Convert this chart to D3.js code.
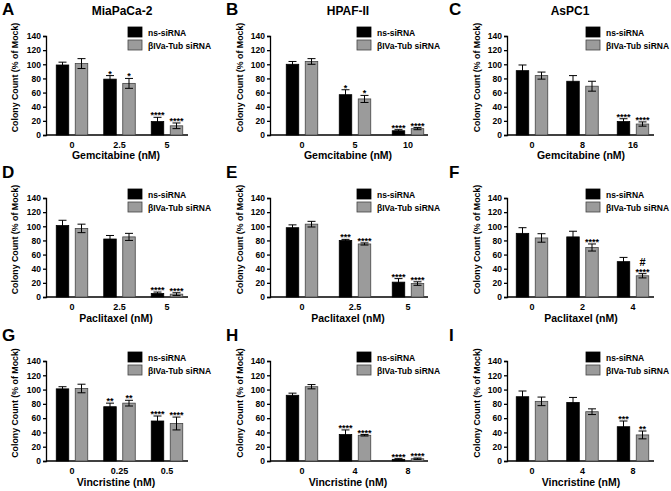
<!DOCTYPE html>
<html>
<head>
<meta charset="utf-8">
<script src="https://cdn.jsdelivr.net/npm/d3@7"></script>
<style>
  body { margin: 0; background: #fff; }
  text { font-family: Arial, "Liberation Sans", sans-serif; font-weight: bold; }
</style>
</head>
<body>
<div id="chart"></div>
<script>
// panel data, left-to-right then top-to-bottom
let letters = ["A", "B", "C", "D", "E", "F", "G", "H", "I"];
let cellLines = ["MiaPaCa-2", "HPAF-II", "AsPC1"];
let drugLabels = ["Gemcitabine (nM)", "Paclitaxel (nM)", "Vincristine (nM)"];
let seriesNames = ["ns-siRNA", "\u03b2IVa-Tub siRNA"];
let yTicks = [0, 20, 40, 60, 80, 100, 120, 140];

let doses = [
  ["0", "2.5", "5"], ["0", "5", "10"], ["0", "8", "16"],
  ["0", "2.5", "5"], ["0", "2.5", "5"], ["0", "2", "4"],
  ["0", "0.25", "0.5"], ["0", "4", "8"], ["0", "4", "8"]
];
let nsMean = [
  [99, 79, 19], [100, 57, 6], [91, 76, 19],
  [101, 82, 5], [98, 80, 21], [90, 85, 50],
  [101, 76, 56], [92, 37, 2.3], [90, 82, 48]
];
let nsErr = [
  [4, 5, 6], [4, 7, 1.5], [8, 8, 4],
  [7.5, 5, 2], [4, 1.5, 5], [8, 8, 6],
  [3, 5, 7], [3, 6.5, 1], [8, 7, 8]
];
let tubMean = [
  [101, 73, 13], [104, 51, 9], [84, 69, 15.5],
  [97, 85, 4], [103, 75, 19], [83.5, 70, 30],
  [101.5, 81, 52.5], [104, 36, 3.2], [83.5, 69, 36.5]
];
let tubErr = [
  [7, 7, 4], [4, 5, 1.5], [5, 7, 3],
  [6, 5, 2], [4, 1.5, 2.5], [6, 5, 3],
  [6, 4, 9], [3, 1, 1], [6, 4, 5.5]
];
let nsSig = [
  ["", "*", "****"], ["", "*", "****"], ["", "", "****"],
  ["", "", "****"], ["", "***", "****"], ["", "", ""],
  ["", "**", "****"], ["", "****", "****"], ["", "", "***"]
];
let tubSig = [
  ["", "*", "****"], ["", "*", "****"], ["", "", "****"],
  ["", "", "****"], ["", "****", "****"], ["", "****", "#|****"],
  ["", "**", "****"], ["", "****", "****"], ["", "", "**"]
];

// layout (pixels)
let width = 671, height = 491;
let cols = [
  { x: 0,   axisX: 46,  first: 72,  last: 167, end: 188, legendX: 128, labelX: 18,  titleX: 122, xTitleX: 116 },
  { x: 224, axisX: 270, first: 302, last: 408, end: 428, legendX: 357, labelX: 243, titleX: 348, xTitleX: 348 },
  { x: 447, axisX: 507, first: 532, last: 633, end: 654, legendX: 586, labelX: 480, titleX: 570, xTitleX: 581 }
];
let rows = [
  { y: 0,   top: 36,  bottom: 135, xTitleY: 159 },
  { y: 163, top: 198, bottom: 297, xTitleY: 322 },
  { y: 326, top: 361, bottom: 461, xTitleY: 486 }
];
let barW = 12.5, barOff = 9.5, capW = 8;
let black = "#000", gray = "#9b9b9b";

let svg = d3.select("#chart").append("svg")
  .attr("width", width).attr("height", height);

letters.forEach(function(letter, i) {
  let col = cols[i % 3], row = rows[Math.floor(i / 3)];
  let g = svg.append("g");

  let x = d3.scalePoint().domain(doses[i]).range([col.first, col.last]);
  let y = d3.scaleLinear().domain([0, 140]).range([row.bottom, row.top]);

  // panel letter
  g.append("text").attr("x", col.x + 2).attr("y", row.y + 15)
    .style("font-size", "17px").text(letter);

  // cell line title on top row
  if (i < 3) {
    g.append("text").attr("x", col.titleX).attr("y", 15)
      .attr("text-anchor", "middle").style("font-size", "12px").text(cellLines[i]);
  }

  // y axis
  let yAxis = d3.axisLeft(y).tickValues(yTicks).tickSize(3).tickPadding(2);
  let ya = g.append("g").attr("transform", "translate(" + col.axisX + ",0)").call(yAxis);
  ya.selectAll("text").style("font-size", "8.5px").style("font-family", "Arial, 'Liberation Sans', sans-serif").style("font-weight", "bold");
  ya.selectAll("line, path").attr("stroke-width", 1.3);

  // x axis
  let xa = g.append("g").attr("transform", "translate(0," + row.bottom + ")");
  xa.append("line").attr("x1", col.axisX).attr("x2", col.end)
    .attr("stroke", "#000").attr("stroke-width", 1.3);
  xa.selectAll(".xtick").data(doses[i]).enter().append("text")
    .attr("x", d => x(d)).attr("y", 12.5)
    .attr("text-anchor", "middle").style("font-size", "9px").text(d => d);

  // axis titles
  g.append("text").attr("x", col.xTitleX).attr("y", row.xTitleY)
    .attr("text-anchor", "middle").style("font-size", "10.5px")
    .text(drugLabels[Math.floor(i / 3)]);
  g.append("text")
    .attr("transform", "translate(" + col.labelX + "," + ((row.top + row.bottom) / 2 - 8) + ") rotate(-90)")
    .attr("text-anchor", "middle").style("font-size", "8.8px")
    .text("Colony Count (% of Mock)");

  // bars, error bars, significance
  let series = [
    { mean: nsMean[i], err: nsErr[i], sig: nsSig[i], off: -barOff, fill: black, stroke: black },
    { mean: tubMean[i], err: tubErr[i], sig: tubSig[i], off: barOff, fill: gray, stroke: "#444" }
  ];
  series.forEach(function(s) {
    let items = doses[i].map((d, k) => ({ dose: d, m: s.mean[k], e: s.err[k], sig: s.sig[k] }));
    let bg = g.append("g");
    bg.selectAll("rect").data(items).enter().append("rect")
      .attr("x", d => x(d.dose) + s.off - barW / 2)
      .attr("y", d => y(d.m))
      .attr("width", barW)
      .attr("height", d => y(0) - y(d.m))
      .attr("fill", s.fill).attr("stroke", s.stroke).attr("stroke-width", 0.8);
    let eb = bg.selectAll(".eb").data(items).enter().append("g")
      .attr("stroke", "#000").attr("stroke-width", 1);
    eb.append("line")
      .attr("x1", d => x(d.dose) + s.off).attr("x2", d => x(d.dose) + s.off)
      .attr("y1", d => y(d.m - d.e)).attr("y2", d => y(d.m + d.e));
    eb.append("line")
      .attr("x1", d => x(d.dose) + s.off - capW / 2).attr("x2", d => x(d.dose) + s.off + capW / 2)
      .attr("y1", d => y(d.m + d.e)).attr("y2", d => y(d.m + d.e));
    eb.append("line")
      .attr("x1", d => x(d.dose) + s.off - capW / 2).attr("x2", d => x(d.dose) + s.off + capW / 2)
      .attr("y1", d => y(d.m - d.e)).attr("y2", d => y(d.m - d.e));
    bg.selectAll(".sig").data(items.filter(d => d.sig)).enter().append("text")
      .attr("x", d => x(d.dose) + s.off)
      .attr("y", d => y(d.m + d.e) - 2)
      .attr("text-anchor", "middle")
      .each(function(d) {
        let parts = d.sig.split("|").reverse();
        let t = d3.select(this);
        parts.forEach(function(p, j) {
          t.append("tspan").attr("x", x(d.dose) + s.off)
            .attr("dy", j === 0 ? 3 : -9)
            .style("font-size", p === "#" ? "11px" : "9px")
            .text(p);
        });
      });
  });

  // legend
  let lg = g.append("g").attr("transform", "translate(" + col.legendX + "," + (row.top - 9) + ")");
  seriesNames.forEach(function(name, k) {
    lg.append("rect").attr("x", 0).attr("y", k * 13).attr("width", 14).attr("height", 10)
      .attr("fill", k === 0 ? black : gray).attr("stroke", k === 0 ? black : "#444").attr("stroke-width", 0.8);
    lg.append("text").attr("x", 20).attr("y", k * 13 + 8.5)
      .style("font-size", "8.5px").text(name);
  });
});
</script>
</body>
</html>
